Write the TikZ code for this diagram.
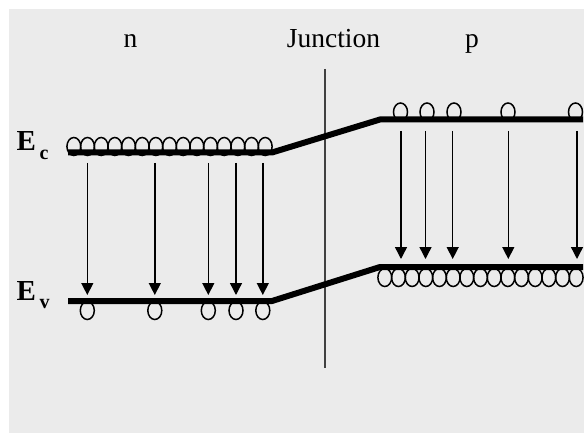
\documentclass[tikz,border=0pt]{standalone}
\usepackage{fontspec}
\setmainfont{Liberation Serif}
\usetikzlibrary{arrows.meta}
\definecolor{bg}{HTML}{EBEBEB}
\definecolor{jline}{HTML}{404040}
\begin{document}
\begin{tikzpicture}[x=1pt,y=-1pt,
  band/.style={line width=6pt},
  carrier/.style={draw=black,line width=1.5pt},
  trans/.style={line width=1.4pt,-{Triangle[length=12pt,width=12pt]}},
  lbl/.style={font=\fontsize{27.5}{30}\selectfont,anchor=base,inner sep=0pt},
  elbl/.style={anchor=base west,inner sep=0pt,font=\fontsize{29}{30}\selectfont\bfseries}]
\useasboundingbox (0,0) rectangle (584,433);
\fill[bg] (9,9) rectangle (584,433);
% labels
\node[lbl] (nlbl) at (130.5,48) {n};
\node[lbl] (junction) at (333.5,48) {Junction};
\node[lbl] (plbl) at (472,48) {p};
\node[elbl] (Ec) at (16.5,151) {E\kern3.5pt\raisebox{-9pt}{\fontsize{20}{20}\selectfont c}};
\node[elbl] (Ev) at (16.5,300) {E\kern3.5pt\raisebox{-8pt}{\fontsize{20}{20}\selectfont v}};
% junction line
\coordinate (jtop) at (325,69);
\coordinate (jbot) at (325,368);
\draw[jline,line width=2pt] (jtop) -- (jbot);
% electrons on n conduction band
\foreach \i in {0,...,14}
  \draw[carrier] ({73.83+13.67*\i},146.5) ellipse [x radius=6.9pt,y radius=9pt];
% holes on p valence band
\foreach \i in {0,...,14}
  \draw[carrier] ({384.8+13.67*\i},277.5) ellipse [x radius=6.9pt,y radius=9pt];
% few electrons on p conduction band
\foreach \x in {400.5,427,454,508,575.5}
  \draw[carrier] (\x,112) ellipse [x radius=7pt,y radius=9pt];
% few holes on n valence band
\foreach \x in {87.3,154.8,208.3,236,262.8}
  \draw[carrier] (\x,310.5) ellipse [x radius=7pt,y radius=9pt];
% bands
\draw[band] (68,152.5) -- (272,152.5) -- (380,119.5) -- (583,119.5);
\draw[band] (68,301) -- (272,301) -- (380,267) -- (583,267);
% transitions n side
\foreach \x [count=\k] in {87.3,154.8,208.3,236,262.8}{
  \coordinate (na\k) at (\x,163);
  \coordinate (nb\k) at (\x,295);
  \draw[trans] (na\k) -- (nb\k);
}
% transitions p side
\foreach \x [count=\k] in {401,425.5,452.7,508.3,577}{
  \coordinate (pa\k) at (\x,131);
  \coordinate (pb\k) at (\x,259);
  \draw[trans] (pa\k) -- (pb\k);
}
\end{tikzpicture}
\end{document}
